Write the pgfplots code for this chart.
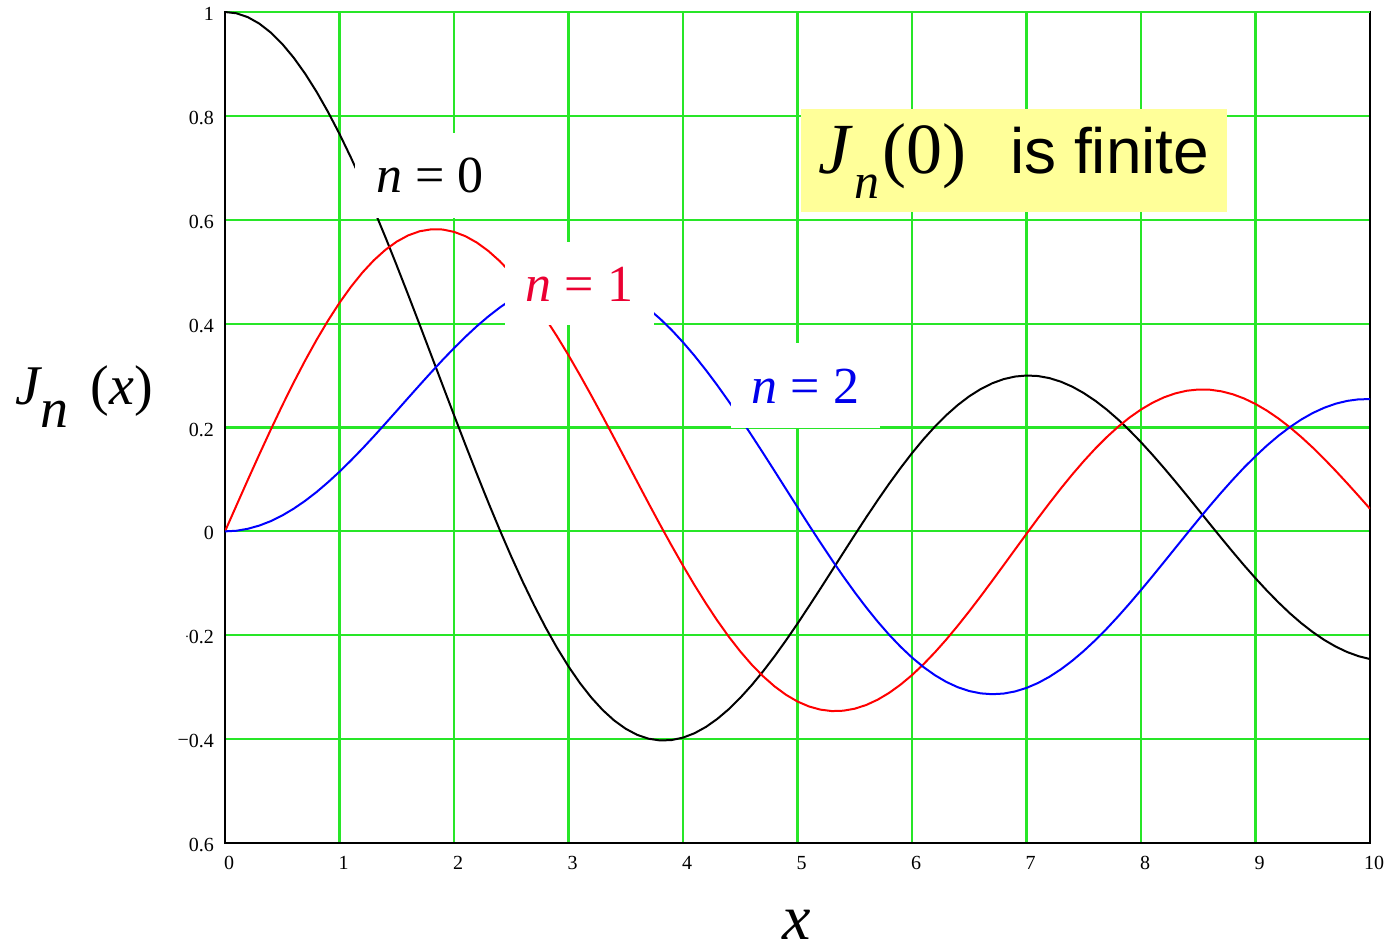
\documentclass[border=0pt]{standalone}
\usepackage{pgfplots}
\pgfplotsset{compat=1.18}
\usepackage{pgfplotstable}
\usepackage{fontspec}
\setmainfont{Liberation Serif}
\newfontfamily\arial{Liberation Sans}
\definecolor{gridgreen}{RGB}{40,230,40}
\definecolor{boxyellow}{RGB}{255,255,153}
\definecolor{labelred}{RGB}{235,0,50}
\definecolor{labelblue}{RGB}{0,0,235}

% Bessel functions of the first kind, J_0, J_1, J_2
\pgfplotstableread{
x    j0      j1      j2
0.0  1.0000  0.0000  0.0000
0.1  0.9975  0.0499  0.0012
0.2  0.9900  0.0995  0.0050
0.3  0.9776  0.1483  0.0112
0.4  0.9604  0.1960  0.0197
0.5  0.9385  0.2423  0.0306
0.6  0.9120  0.2867  0.0437
0.7  0.8812  0.3290  0.0588
0.8  0.8463  0.3688  0.0758
0.9  0.8075  0.4059  0.0946
1.0  0.7652  0.4401  0.1149
1.1  0.7196  0.4709  0.1366
1.2  0.6711  0.4983  0.1593
1.3  0.6201  0.5220  0.1830
1.4  0.5669  0.5419  0.2074
1.5  0.5118  0.5579  0.2321
1.6  0.4554  0.5699  0.2570
1.7  0.3980  0.5778  0.2817
1.8  0.3400  0.5815  0.3061
1.9  0.2818  0.5812  0.3299
2.0  0.2239  0.5767  0.3528
2.1  0.1666  0.5683  0.3746
2.2  0.1104  0.5560  0.3951
2.3  0.0555  0.5399  0.4139
2.4  0.0025  0.5202  0.4310
2.5 -0.0484  0.4971  0.4461
2.6 -0.0968  0.4708  0.4590
2.7 -0.1424  0.4416  0.4696
2.8 -0.1850  0.4097  0.4777
2.9 -0.2243  0.3754  0.4832
3.0 -0.2601  0.3391  0.4861
3.1 -0.2921  0.3009  0.4863
3.2 -0.3202  0.2613  0.4835
3.3 -0.3443  0.2207  0.4780
3.4 -0.3643  0.1792  0.4697
3.5 -0.3801  0.1374  0.4586
3.6 -0.3918  0.0955  0.4448
3.7 -0.3992  0.0538  0.4283
3.8 -0.4026  0.0128  0.4093
3.9 -0.4018 -0.0272  0.3879
4.0 -0.3971 -0.0660  0.3641
4.1 -0.3887 -0.1033  0.3383
4.2 -0.3766 -0.1386  0.3105
4.3 -0.3610 -0.1719  0.2811
4.4 -0.3423 -0.2028  0.2501
4.5 -0.3205 -0.2311  0.2178
4.6 -0.2961 -0.2566  0.1846
4.7 -0.2693 -0.2791  0.1506
4.8 -0.2404 -0.2985  0.1161
4.9 -0.2097 -0.3147  0.0813
5.0 -0.1776 -0.3276  0.0466
5.1 -0.1443 -0.3371  0.0121
5.2 -0.1103 -0.3432 -0.0217
5.3 -0.0758 -0.3460 -0.0548
5.4 -0.0412 -0.3453 -0.0867
5.5 -0.0068 -0.3414 -0.1173
5.6  0.0270 -0.3343 -0.1464
5.7  0.0599 -0.3241 -0.1737
5.8  0.0917 -0.3110 -0.1990
5.9  0.1220 -0.2951 -0.2221
6.0  0.1506 -0.2767 -0.2429
6.1  0.1773 -0.2559 -0.2612
6.2  0.2017 -0.2329 -0.2769
6.3  0.2238 -0.2081 -0.2899
6.4  0.2433 -0.1816 -0.3001
6.5  0.2601 -0.1538 -0.3074
6.6  0.2740 -0.1250 -0.3119
6.7  0.2851 -0.0953 -0.3135
6.8  0.2931 -0.0652 -0.3123
6.9  0.2981 -0.0349 -0.3082
7.0  0.3001 -0.0047 -0.3014
7.1  0.2991  0.0252 -0.2920
7.2  0.2951  0.0543 -0.2800
7.3  0.2882  0.0826 -0.2656
7.4  0.2786  0.1096 -0.2490
7.5  0.2663  0.1352 -0.2303
7.6  0.2516  0.1592 -0.2097
7.7  0.2346  0.1813 -0.1875
7.8  0.2154  0.2014 -0.1638
7.9  0.1944  0.2192 -0.1389
8.0  0.1717  0.2346 -0.1130
8.1  0.1475  0.2476 -0.0864
8.2  0.1222  0.2580 -0.0593
8.3  0.0960  0.2657 -0.0320
8.4  0.0692  0.2708 -0.0047
8.5  0.0419  0.2731  0.0223
8.6  0.0146  0.2728  0.0488
8.7 -0.0125  0.2697  0.0745
8.8 -0.0392  0.2641  0.0992
8.9 -0.0653  0.2559  0.1228
9.0 -0.0903  0.2453  0.1448
9.1 -0.1142  0.2324  0.1653
9.2 -0.1367  0.2174  0.1840
9.3 -0.1577  0.2004  0.2007
9.4 -0.1768  0.1816  0.2154
9.5 -0.1939  0.1613  0.2279
9.6 -0.2090  0.1395  0.2380
9.7 -0.2218  0.1166  0.2458
9.8 -0.2323  0.0928  0.2512
9.9 -0.2403  0.0684  0.2542
10.0 -0.2459 0.0435  0.2546
}\bessel

\begin{document}
\begin{tikzpicture}
\useasboundingbox (-112.5bp,-53.5bp) rectangle (580.5bp,421.5bp);
\begin{axis}[
  name=ax,
  at={(0,0)}, anchor=south west,
  scale only axis, width=572.5bp, height=415.5bp,
  xmin=0, xmax=10, ymin=-0.6, ymax=1,
  xtick={0,1,2,3,4,5,6,7,8,9,10},
  ytick={-0.6,-0.4,-0.2,0,0.2,0.4,0.6,0.8,1},
  yticklabels={0.6,{\raisebox{0.05em}{\textminus}0.4},{\raisebox{0.3em}{\scriptsize.}0.2},0,0.2,0.4,0.6,0.8,1},
  xticklabels={0,1,2,3,4,5,6,7,8,9,10},
  /pgf/number format/assume math mode=true,
  xmajorgrids, ymajorgrids,
  grid style={gridgreen, line width=1.1bp},
  major grid style={gridgreen, line width=1.1bp},
  major tick length=0pt,
  axis line style={black, line width=1bp},
  tick label style={font=\fontsize{10bp}{12bp}\selectfont},
  xticklabel style={yshift=-3bp, xshift=2bp},
  yticklabel style={xshift=-2bp, yshift=-1bp},
]
\draw[gridgreen, line width=1.1bp] (axis cs:0,1) -- (axis cs:10,1);
\addplot[black, line width=1bp] table[x=x, y=j0] {\bessel};
\addplot[red, line width=1bp] table[x=x, y=j1] {\bessel};
\addplot[blue, line width=1bp] table[x=x, y=j2] {\bessel};

\node[fill=white, inner sep=0, minimum width=75bp, minimum height=42.5bp]
  at (axis cs:1.79,0.6845) {\fontsize{26bp}{30bp}\selectfont{\itshape n} = 0};
\node[fill=white, inner sep=0, minimum width=74.5bp, minimum height=41.5bp, text=labelred]
  at (axis cs:3.096,0.4765) {\fontsize{26bp}{30bp}\selectfont{\itshape n} = 1};
\node[fill=white, inner sep=0, minimum width=74.5bp, minimum height=42.5bp, text=labelblue]
  at (axis cs:5.07,0.2801) {\fontsize{26bp}{30bp}\selectfont{\itshape n} = 2};

\node[fill=boxyellow, inner sep=0, minimum width=213bp, minimum height=51.5bp]
  at (axis cs:6.891,0.7134) {\fontsize{36bp}{40bp}\selectfont{\itshape J}\hspace{0.05em}\raisebox{-0.35em}{\fontsize{25bp}{28bp}\selectfont\itshape n}\hspace{0.05em}(0)\hspace{0.6em}{\arial\fontsize{32bp}{36bp}\selectfont is finite}};
\end{axis}

% axis titles, set outside the clipped plot area
\node[anchor=base west, inner sep=0] at (ax.south west) [xshift=-105bp, yshift=219bp]
  {\fontsize{28bp}{32bp}\selectfont{\itshape J}\raisebox{-0.4em}{\itshape n}\hspace{0.4em}({\itshape x})};
\node[anchor=base, inner sep=0] at (ax.south) [xshift=-0.5bp, yshift=-48bp]
  {\fontsize{32bp}{36bp}\selectfont\itshape x};
\end{tikzpicture}
\end{document}
